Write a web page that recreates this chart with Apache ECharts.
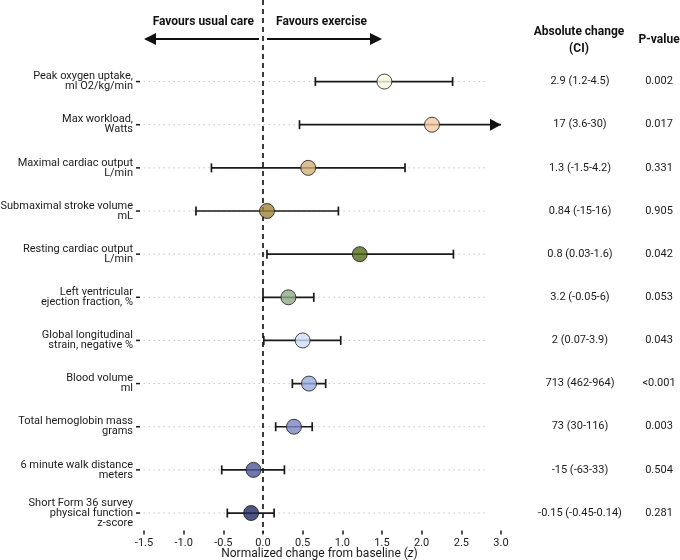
<!DOCTYPE html>
<html>
<head>
<meta charset="utf-8">
<script src="https://cdn.jsdelivr.net/npm/echarts@6/dist/echarts.min.js"></script>
<style>
  html, body { margin: 0; padding: 0; background: #fff; }
  #chart { width: 680px; height: 560px; }
</style>
</head>
<body>
<div id="chart"></div>
<script>
const outcomes = [
    "Peak oxygen uptake,\nml O2/kg/min",
    "Max workload,\nWatts",
    "Maximal cardiac output\nL/min",
    "Submaximal stroke volume\nmL",
    "Resting cardiac output\nL/min",
    "Left ventricular\nejection fraction, %",
    "Global longitudinal\nstrain, negative %",
    "Blood volume\nml",
    "Total hemoglobin mass\ngrams",
    "6 minute walk distance\nmeters",
    "Short Form 36 survey\nphysical function\nz-score"
]
const estimate = [1.53, 2.13, 0.57, 0.05, 1.22, 0.32, 0.50, 0.58, 0.39, -0.12, -0.15]
const ciLow = [0.66, 0.46, -0.65, -0.845, 0.05, 0.0, 0.01, 0.37, 0.16, -0.52, -0.45]
const ciHigh = [2.39, 3.75, 1.79, 0.95, 2.40, 0.64, 0.98, 0.79, 0.62, 0.27, 0.14]
const pointColors = ["#FBFAE2", "#F4C9A3", "#D2AF77", "#9C8537", "#546A18", "#8FAA85",
    "#D1DDF6", "#9AABE2", "#7B86C2", "#4B5796", "#222A5F"]
const absChange = ["2.9 (1.2-4.5)", "17 (3.6-30)", "1.3 (-1.5-4.2)", "0.84 (-15-16)", "0.8 (0.03-1.6)",
    "3.2 (-0.05-6)", "2 (0.07-3.9)", "713 (462-964)", "73 (30-116)", "-15 (-63-33)", "-0.15 (-0.45-0.14)"]
const pValues = ["0.002", "0.017", "0.331", "0.905", "0.042", "0.053", "0.043", "<0.001", "0.003", "0.504", "0.281"]
const xTicks = [-1.5, -1.0, -0.5, 0.0, 0.5, 1.0, 1.5, 2.0, 2.5, 3.0]

const X_MIN = xTicks[0]
const X_MAX = xTicks[xTicks.length - 1]
const FONT = "Roboto"
const INK = "#1a1a1a"

const chart = echarts.init(document.getElementById("chart"))

// dotted guide lines behind each row, plus the short y tick
const renderGuide = (params, api) => {
    const row = api.value(0)
    const a = api.coord([X_MIN - 0.07, row])
    const b = api.coord([2.8, row])
    const edge = api.coord([X_MIN, row])[0]
    return {
        type: "group",
        children: [
            {
                type: "line",
                shape: { x1: a[0], y1: a[1], x2: b[0], y2: b[1] },
                style: { stroke: "#c4c4c4", lineWidth: 1, lineDash: [1.5, 3.5] }
            },
            {
                type: "line",
                shape: { x1: edge - 8, y1: a[1], x2: edge - 4, y2: a[1] },
                style: { stroke: INK, lineWidth: 1.5 }
            }
        ]
    }
}

// confidence interval whiskers, arrow when cut by the axis
const renderWhisker = (params, api) => {
    const row = api.value(2)
    const lo = api.coord([api.value(0), row])
    const clipped = api.value(1) > X_MAX
    const hi = api.coord([clipped ? X_MAX : api.value(1), row])
    const y = lo[1]
    const pen = { stroke: INK, lineWidth: 1.7 }
    const children = [
        { type: "line", shape: { x1: lo[0], y1: y, x2: hi[0], y2: y }, style: pen },
        { type: "line", shape: { x1: lo[0], y1: y - 4.5, x2: lo[0], y2: y + 4.5 }, style: pen }
    ]
    if (clipped) {
        children.push({
            type: "polygon",
            shape: { points: [[hi[0], y], [hi[0] - 11, y - 6], [hi[0] - 11, y + 6]] },
            style: { fill: "#111" }
        })
    } else {
        children.push({ type: "line", shape: { x1: hi[0], y1: y - 4.5, x2: hi[0], y2: y + 4.5 }, style: pen })
    }
    return { type: "group", children: children }
}

// right hand table
const renderTable = (params, api) => {
    const row = api.value(0)
    const y = api.coord([0, row])[1]
    const base = { fill: INK, fontFamily: FONT, fontSize: 11, align: "center", verticalAlign: "middle" }
    return {
        type: "group",
        children: [
            { type: "text", style: Object.assign({ text: absChange[row], x: 580, y: y }, base) },
            { type: "text", style: Object.assign({ text: pValues[row], x: 659, y: y }, base) }
        ]
    }
}

// zero line, favour arrows, headers and x axis title
const renderHeader = (params, api) => {
    const zero = api.coord([0, 0])[0]
    const left = api.coord([-1.5, 0])[0]
    const right = api.coord([1.5, 0])[0]
    const mid = (api.coord([X_MIN, 0])[0] + api.coord([X_MAX, 0])[0]) / 2
    const bottom = api.coord([0, outcomes.length - 1])[1] + 20
    const ay = 39
    const bold = { fill: "#111", fontFamily: FONT, fontSize: 12, fontWeight: "bold", verticalAlign: "middle" }
    return {
        type: "group",
        children: [
            { type: "line", shape: { x1: zero, y1: 0, x2: zero, y2: bottom }, style: { stroke: INK, lineWidth: 1.7, lineDash: [5, 4] } },
            { type: "line", shape: { x1: zero - 4, y1: ay, x2: left + 10, y2: ay }, style: { stroke: "#111", lineWidth: 2 } },
            { type: "polygon", shape: { points: [[left, ay], [left + 12, ay - 6], [left + 12, ay + 6]] }, style: { fill: "#111" } },
            { type: "line", shape: { x1: zero + 4, y1: ay, x2: right - 10, y2: ay }, style: { stroke: "#111", lineWidth: 2 } },
            { type: "polygon", shape: { points: [[right, ay], [right - 12, ay - 6], [right - 12, ay + 6]] }, style: { fill: "#111" } },
            { type: "text", style: Object.assign({ text: "Favours usual care", x: zero - 9, y: 22, align: "right" }, bold) },
            { type: "text", style: Object.assign({ text: "Favours exercise", x: zero + 13, y: 22, align: "left" }, bold) },
            { type: "text", style: Object.assign({ text: "Absolute change\n(CI)", x: 579, y: 40, align: "center", lineHeight: 17 }, bold) },
            { type: "text", style: Object.assign({ text: "P-value", x: 659, y: 40, align: "center" }, bold) },
            {
                type: "text",
                style: {
                    text: "Normalized change from baseline ({i|z})",
                    x: mid - 3, y: 554,
                    align: "center", verticalAlign: "middle",
                    fill: INK, fontFamily: FONT, fontSize: 12,
                    rich: { i: { fontStyle: "italic", fontSize: 12, fill: INK, fontFamily: FONT } }
                }
            }
        ]
    }
}

const rows = outcomes.map((_, i) => [i])

const option = {
    animation: false,
    backgroundColor: "#fff",
    textStyle: { fontFamily: FONT },
    grid: { left: 144, right: 179, top: 60, bottom: 25.4, outerBoundsMode: "none", containLabel: false },
    xAxis: {
        type: "value",
        min: X_MIN,
        max: X_MAX,
        interval: 0.5,
        axisLine: { show: false },
        axisTick: { show: true, inside: true, length: 4, lineStyle: { color: INK, width: 1.5 } },
        axisLabel: { color: INK, fontSize: 11, margin: 3, formatter: v => v.toFixed(1) },
        splitLine: { show: false }
    },
    yAxis: {
        type: "category",
        data: outcomes,
        inverse: true,
        offset: 4,
        axisLine: { show: false },
        axisTick: { show: false },
        axisLabel: { color: INK, fontSize: 11, lineHeight: 10, margin: 7, align: "right" },
        splitLine: { show: false }
    },
    series: [
        { type: "custom", renderItem: renderGuide, data: rows, clip: false, silent: true, z: 1 },
        { type: "custom", renderItem: renderHeader, data: [[0]], clip: false, silent: true, z: 2 },
        {
            type: "custom",
            renderItem: renderWhisker,
            data: outcomes.map((_, i) => [ciLow[i], ciHigh[i], i]),
            clip: false,
            z: 3
        },
        {
            type: "scatter",
            symbolSize: 15,
            data: estimate.map((v, i) => ({
                value: [v, i],
                itemStyle: { color: pointColors[i], borderColor: "#1a1a1a", borderWidth: 1 }
            })),
            z: 4
        },
        { type: "custom", renderItem: renderTable, data: rows, clip: false, silent: true, z: 5 }
    ]
}

chart.setOption(option)
</script>
</body>
</html>
